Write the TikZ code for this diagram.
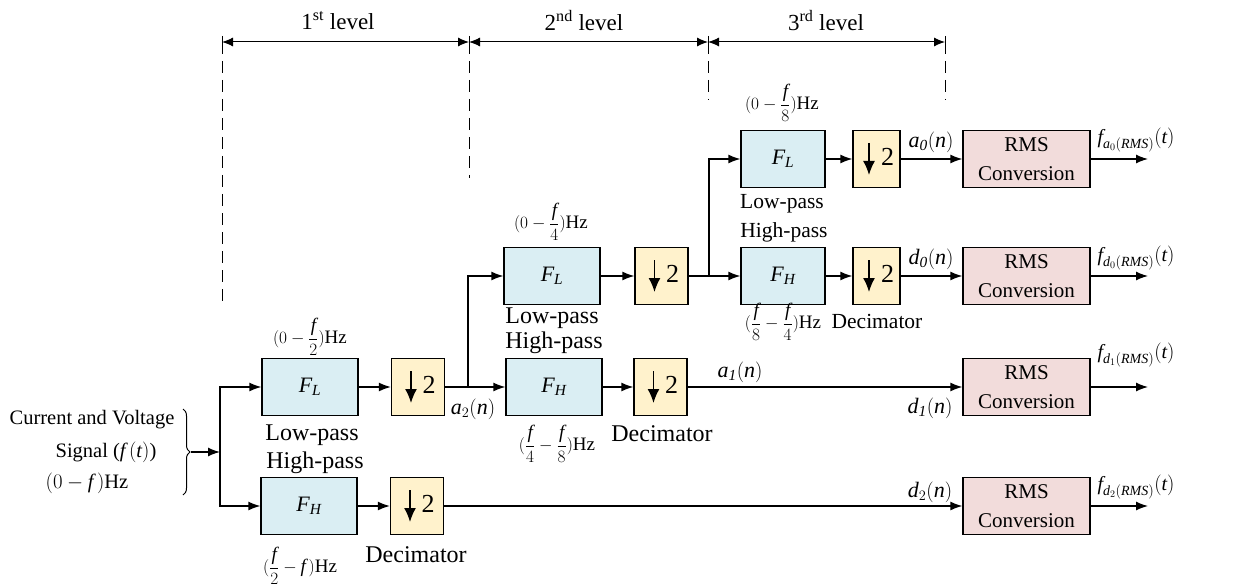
\documentclass[tikz,border=0pt]{standalone}
\usepackage{amsmath}
\usepackage{fontspec}
\setmainfont{Liberation Serif}
\usetikzlibrary{arrows.meta,decorations.pathreplacing,calc}
\definecolor{fcol}{HTML}{DAEEF3}
\definecolor{dcol}{HTML}{FFF2CC}
\definecolor{rcol}{HTML}{F2DCDB}
\newcommand{\itx}[1]{\textit{#1}}
\begin{document}
\begin{tikzpicture}[x=1pt,y=-1pt,
  every node/.style={inner sep=0pt},
  filt/.style={draw=black, line width=1.3pt, fill=fcol, minimum width=96pt, minimum height=57pt, font=\fontsize{22}{26}\selectfont},
  filtc/.style={filt, minimum width=84pt},
  dec/.style={draw=black, line width=1.3pt, fill=dcol, minimum width=53pt, minimum height=57pt},
  decc/.style={dec, minimum width=47pt},
  rms/.style={draw=black, line width=1.3pt, fill=rcol, minimum width=127pt, minimum height=57pt, align=center, font=\fontsize{21}{29}\selectfont},
  conn/.style={line width=1.3pt, -{Latex[length=12pt,width=9pt]}},
  wire/.style={line width=1.3pt},
  txt/.style={font=\fontsize{24}{28}\selectfont},
  txtc/.style={font=\fontsize{21.5}{26}\selectfont},
  sig/.style={font=\fontsize{22}{26}\selectfont},
  intxt/.style={font=\fontsize{20.5}{24}\selectfont},
  two/.style={font=\fontsize{26}{28}\selectfont},
  frq/.style={font=\fontsize{19}{22}\selectfont},
  outl/.style={font=\fontsize{20}{22}\selectfont},
  lvl/.style={font=\fontsize{23}{26}\selectfont},
  guide/.style={line width=1pt, dash pattern=on 12pt off 7pt},
  lvlarrow/.style={line width=1pt, {Latex[length=11pt,width=9pt]}-{Latex[length=11pt,width=9pt]}},
  downarr/.style={line width=1.6pt, -{Latex[length=14pt,width=12pt]}},
]
\useasboundingbox (0,0) rectangle (1260,588);

% level guides
\coordinate (g1) at (222,42);
\coordinate (g2) at (469,42);
\coordinate (g3) at (708,42);
\coordinate (g4) at (945,42);
\coordinate (g1b) at (222,305);
\coordinate (g2b) at (469,178);
\coordinate (g3b) at (708,100);
\coordinate (g4b) at (945,100);
\draw[guide] (g1) -- (g1b);
\draw[guide] (g2) -- (g2b);
\draw[guide] (g3) -- (g3b);
\draw[guide] (g4) -- (g4b);
\foreach \g in {g1,g2,g3,g4}{
  \draw[line width=1pt] ($(\g)+(0,-6)$) -- ($(\g)+(0,6)$);
}
\draw[lvlarrow] (g1) -- (g2);
\draw[lvlarrow] (g2) -- (g3);
\draw[lvlarrow] (g3) -- (g4);
\node[lvl] (lv1) at (338,21) {1\textsuperscript{st} level};
\node[lvl] (lv2) at (584,21) {2\textsuperscript{nd} level};
\node[lvl] (lv3) at (826,21) {3\textsuperscript{rd} level};

% blocks
\node[filt] (fl1) at (310,387) {$\itx{F}_{\itx{L}}$};
\node[dec] (d1a) at (418,387) {};
\node[filt] (fh1) at (309,506) {$\itx{F}_{\itx{H}}$};
\node[dec] (d1b) at (417,506) {};
\node[filt] (fl2) at (552,276) {$\itx{F}_{\itx{L}}$};
\node[dec] (d2a) at (661.5,276) {};
\node[filt] (fh2) at (554,387) {$\itx{F}_{\itx{H}}$};
\node[dec] (d2b) at (660.5,387) {};
\node[filtc] (fl3) at (783,159) {$\itx{F}_{\itx{L}}$};
\node[decc] (d3a) at (876.5,159) {};
\node[filtc] (fh3) at (783,276) {$\itx{F}_{\itx{H}}$};
\node[decc] (d3b) at (876.5,276) {};
\node[rms] (r1) at (1026.5,159) {RMS\\Conversion};
\node[rms] (r2) at (1026.5,276) {RMS\\Conversion};
\node[rms] (r3) at (1026.5,387) {RMS\\Conversion};
\node[rms] (r4) at (1026.5,506) {RMS\\Conversion};

% decimator symbols
\foreach \d/\ax/\tx in {d1a/-7/11, d1b/-7/11, d2a/-7/11, d2b/-7/11, d3a/-7.5/11, d3b/-7.5/11}{
  \draw[downarr] ($(\d.center)+(\ax,-16)$) -- ($(\d.center)+(\ax,16)$);
  \node[two] at ($(\d.center)+(\tx,-2)$) {2};
}

% input
\node[intxt] (in1) at (92,420) {Current and Voltage};
\node[intxt] (in2) at (106,452) {Signal ($\itx{f}\,(\itx{t})$)};
\node[intxt] (in3) at (87,483) {$(0-\itx{f}\,)$Hz};
\draw[line width=1pt, decorate, decoration={brace, amplitude=7pt}] (183,409) -- (183,495);
\coordinate (bt) at (191,452);
\coordinate (j1) at (220,452);
\draw[conn] (bt) -- (j1);
\draw[conn] (j1) |- (fl1.west);
\draw[conn] (j1) |- (fh1.west);

% connections
\draw[conn] (fl1) -- (d1a);
\draw[conn] (fh1) -- (d1b);
\coordinate (j2) at (468,387);
\draw[wire] (d1a.east) -- (j2);
\draw[conn] (j2) -- (fh2.west);
\draw[conn] (j2) |- (fl2.west);
\draw[conn] (fl2) -- (d2a);
\draw[conn] (fh2) -- (d2b);
\coordinate (j3) at (709,276);
\draw[wire] (d2a.east) -- (j3);
\draw[conn] (j3) -- (fh3.west);
\draw[conn] (j3) |- (fl3.west);
\draw[conn] (fl3) -- (d3a);
\draw[conn] (fh3) -- (d3b);
\draw[conn] (d3a) -- (r1);
\draw[conn] (d3b) -- (r2);
\draw[conn] (d2b) -- (r3);
\draw[conn] (d1b) -- (r4);
\coordinate (o1) at (1148,159);
\coordinate (o2) at (1148,276);
\coordinate (o3) at (1148,387);
\coordinate (o4) at (1148,506);
\draw[conn] (r1) -- (o1);
\draw[conn] (r2) -- (o2);
\draw[conn] (r3) -- (o3);
\draw[conn] (r4) -- (o4);

% level 1 labels
\node[frq] (q1) at (310,337) {$(0-\dfrac{\itx{f}}{2})$Hz};
\node[txt] (lp1) at (312,435) {Low-pass};
\node[txt] (hp1) at (315,463) {High-pass};
\node[frq] (q2) at (300,566) {$(\dfrac{\itx{f}}{2}-\itx{f}\,)$Hz};
\node[txt] (dm1) at (416,555) {Decimator};
\node[sig] (la2) at (473,409) {$\itx{a}_{2}(\itx{n})$};

% level 2 labels
\node[frq] (q3) at (551,222) {$(0-\dfrac{\itx{f}}{4})$Hz};
\node[txt] (lp2) at (552,318) {Low-pass};
\node[txt] (hp2) at (554,343) {High-pass};
\node[frq] (q4) at (557,444) {$(\dfrac{\itx{f}}{4}-\dfrac{\itx{f}}{8})$Hz};
\node[txt] (dm2) at (662,434) {Decimator};
\node[sig] (la1) at (740,372) {$\itx{a}_{\itx{1}}(\itx{n})$};

% level 3 labels
\node[frq] (q5) at (782,103) {$(0-\dfrac{\itx{f}}{8})$Hz};
\node[txtc] (lp3) at (782,204) {Low-pass};
\node[txtc] (hp3) at (784,232) {High-pass};
\node[frq] (q6) at (783,322) {$(\dfrac{\itx{f}}{8}-\dfrac{\itx{f}}{4})$Hz};
\node[txtc] (dm3) at (877,321) {Decimator};
\node[sig] (la0) at (931,142) {$\itx{a}_{\itx{0}}(\itx{n})$};
\node[sig] (ld0) at (931,259) {$\itx{d}_{\itx{0}}(\itx{n})$};
\node[sig] (ld1) at (930,408) {$\itx{d}_{\itx{1}}(\itx{n})$};
\node[sig] (ld2) at (930,492) {$\itx{d}_{2}(\itx{n})$};

% outputs
\node[outl] (of1) at (1136,140) {$\itx{f}_{\itx{a}_{0}(\itx{RMS})}(\itx{t})$};
\node[outl] (of2) at (1136,258) {$\itx{f}_{\itx{d}_{0}(\itx{RMS})}(\itx{t})$};
\node[outl] (of3) at (1136,355) {$\itx{f}_{\itx{d}_{1}(\itx{RMS})}(\itx{t})$};
\node[outl] (of4) at (1136,487) {$\itx{f}_{\itx{d}_{2}(\itx{RMS})}(\itx{t})$};
\end{tikzpicture}
\end{document}
